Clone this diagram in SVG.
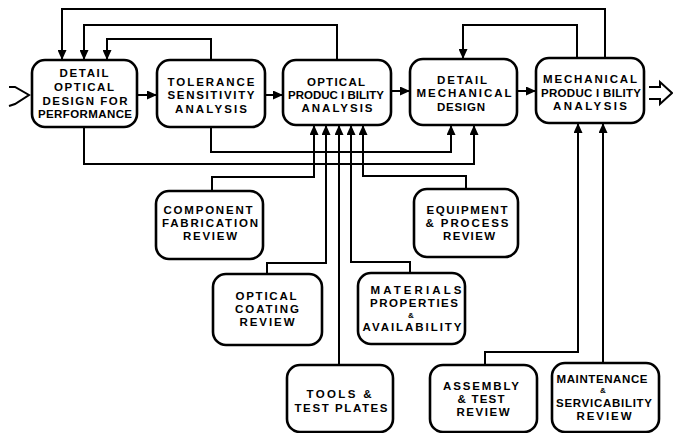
<svg xmlns="http://www.w3.org/2000/svg" width="673" height="433" viewBox="0 0 673 433">
<style>
.box{fill:#fff;stroke:#000;stroke-width:2.6}
.t{font-family:"Liberation Sans",Arial,sans-serif;font-weight:bold;font-size:11.5px;fill:#000;text-anchor:middle}
.s{font-size:8px}
.c{fill:none;stroke:#000;stroke-width:2}
.io{fill:none;stroke:#000;stroke-width:2;stroke-linejoin:miter}
</style>
<defs>
<marker id="a" markerUnits="userSpaceOnUse" markerWidth="11" markerHeight="9" refX="10" refY="4.5" orient="auto">
<path d="M0,0 L10,4.5 L0,9 z" fill="#000"/>
</marker>
</defs>
<rect width="673" height="433" fill="#fff"/>
<g id="connectors">
<path class="c" d="M137,95 H157" marker-end="url(#a)"/>
<path class="c" d="M265,95 H283" marker-end="url(#a)"/>
<path class="c" d="M391,91 H410" marker-end="url(#a)"/>
<path class="c" d="M517,91 H536" marker-end="url(#a)"/>
<path class="c" d="M605,58 V9 H62 V60" marker-end="url(#a)"/>
<path class="c" d="M337,60 V25 H84 V60" marker-end="url(#a)"/>
<path class="c" d="M211,60 V39 H107 V60" marker-end="url(#a)"/>
<path class="c" d="M577,58 V25 H463 V59" marker-end="url(#a)"/>
<path class="c" d="M211,127 V152 H451 V125" marker-end="url(#a)"/>
<path class="c" d="M84,127 V164 H474 V125" marker-end="url(#a)"/>
<path class="c" d="M212,191 V177 H314 V125" marker-end="url(#a)"/>
<path class="c" d="M267,274 V263 H326 V125" marker-end="url(#a)"/>
<path class="c" d="M339,365 V125" marker-end="url(#a)"/>
<path class="c" d="M410,273 V262 H351 V125" marker-end="url(#a)"/>
<path class="c" d="M466,189 V176 H363 V125" marker-end="url(#a)"/>
<path class="c" d="M485,365 V352 H578 V123" marker-end="url(#a)"/>
<path class="c" d="M603,363 V123" marker-end="url(#a)"/>
<polyline class="io" points="9,87 15,87 29,95 15,104 9,106"/>
<polyline class="io" points="649,87 660,87 660,82 672,93 660,104 660,99 649,99"/>
</g>
<g id="n1">
<rect class="box" x="32" y="60" width="105" height="67" rx="13"/>
<text class="t" x="84" y="77" textLength="49" lengthAdjust="spacing">DETAIL</text>
<text class="t" x="84" y="91" textLength="60" lengthAdjust="spacing">OPTICAL</text>
<text class="t" x="85" y="105" textLength="85" lengthAdjust="spacing">DESIGN FOR</text>
<text class="t" x="85" y="118" textLength="94" lengthAdjust="spacing">PERFORMANCE</text>
</g>
<g id="n2">
<rect class="box" x="157" y="60" width="108" height="67" rx="13"/>
<text class="t" x="211" y="86" textLength="87" lengthAdjust="spacing">TOLERANCE</text>
<text class="t" x="211" y="99" textLength="87" lengthAdjust="spacing">SENSITIVITY</text>
<text class="t" x="211" y="113" textLength="72" lengthAdjust="spacing">ANALYSIS</text>
</g>
<g id="n3">
<rect class="box" x="283" y="60" width="108" height="65" rx="13"/>
<text class="t" x="336" y="86" textLength="58" lengthAdjust="spacing">OPTICAL</text>
<text class="t" x="336" y="99" textLength="96" lengthAdjust="spacing">PRODUC I BILITY</text>
<text class="t" x="337" y="112" textLength="71" lengthAdjust="spacing">ANALYSIS</text>
</g>
<g id="n4">
<rect class="box" x="410" y="59" width="107" height="66" rx="13"/>
<text class="t" x="462" y="84" textLength="50" lengthAdjust="spacing">DETAIL</text>
<text class="t" x="464" y="97" textLength="95" lengthAdjust="spacing">MECHANICAL</text>
<text class="t" x="461" y="111" textLength="48" lengthAdjust="spacing">DESIGN</text>
</g>
<g id="n5">
<rect class="box" x="536" y="58" width="108" height="65" rx="13"/>
<text class="t" x="590" y="83" textLength="94" lengthAdjust="spacing">MECHANICAL</text>
<text class="t" x="591" y="97" textLength="100" lengthAdjust="spacing">PRODUC I BILITY</text>
<text class="t" x="590" y="110" textLength="74" lengthAdjust="spacing">ANALYSIS</text>
</g>
<g id="n6">
<rect class="box" x="156" y="191" width="107" height="68" rx="13"/>
<text class="t" x="208" y="214" textLength="89" lengthAdjust="spacing">COMPONENT</text>
<text class="t" x="210" y="227" textLength="96" lengthAdjust="spacing">FABRICATION</text>
<text class="t" x="210" y="240" textLength="54" lengthAdjust="spacing">REVIEW</text>
</g>
<g id="n7">
<rect class="box" x="213" y="274" width="109" height="71" rx="13"/>
<text class="t" x="266" y="300" textLength="61" lengthAdjust="spacing">OPTICAL</text>
<text class="t" x="267" y="313" textLength="64" lengthAdjust="spacing">COATING</text>
<text class="t" x="267" y="326" textLength="55" lengthAdjust="spacing">REVIEW</text>
</g>
<g id="n8">
<rect class="box" x="358" y="273" width="107" height="71" rx="13"/>
<text class="t" x="416" y="294" textLength="91" lengthAdjust="spacing">MATERIALS</text>
<text class="t" x="414" y="307" textLength="88" lengthAdjust="spacing">PROPERTIES</text>
<text class="t s" x="411" y="318">&amp;</text>
<text class="t" x="412" y="331" textLength="99" lengthAdjust="spacing">AVAILABILITY</text>
</g>
<g id="n9">
<rect class="box" x="414" y="189" width="104" height="68" rx="13"/>
<text class="t" x="467" y="214" textLength="81" lengthAdjust="spacing">EQUIPMENT</text>
<text class="t" x="467" y="227" textLength="83" lengthAdjust="spacing">&amp; PROCESS</text>
<text class="t" x="469" y="240" textLength="52" lengthAdjust="spacing">REVIEW</text>
</g>
<g id="n10">
<rect class="box" x="287" y="365" width="106" height="67" rx="13"/>
<text class="t" x="339" y="398" textLength="65" lengthAdjust="spacing">TOOLS &amp;</text>
<text class="t" x="341" y="412" textLength="93" lengthAdjust="spacing">TEST PLATES</text>
</g>
<g id="n11">
<rect class="box" x="430" y="365" width="107" height="67" rx="13"/>
<text class="t" x="481" y="390" textLength="76" lengthAdjust="spacing">ASSEMBLY</text>
<text class="t" x="481" y="403" textLength="47" lengthAdjust="spacing">&amp; TEST</text>
<text class="t" x="483" y="416" textLength="53" lengthAdjust="spacing">REVIEW</text>
</g>
<g id="n12">
<rect class="box" x="552" y="363" width="107" height="69" rx="13"/>
<text class="t" x="602" y="383" textLength="91" lengthAdjust="spacing">MAINTENANCE</text>
<text class="t s" x="603" y="393">&amp;</text>
<text class="t" x="604" y="407" textLength="96" lengthAdjust="spacing">SERVICABILITY</text>
<text class="t" x="604" y="420" textLength="55" lengthAdjust="spacing">REVIEW</text>
</g>
</svg>
